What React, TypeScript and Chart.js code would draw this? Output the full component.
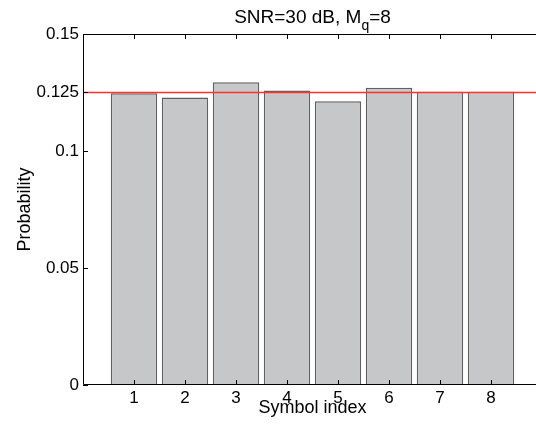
import React, { useEffect, useRef } from "react";
import { Chart, registerables } from "chart.js";

Chart.register(...registerables);

const symbols = [1, 2, 3, 4, 5, 6, 7, 8];
const probabilities = [0.1247, 0.1229, 0.1294, 0.1259, 0.1213, 0.127, 0.1253, 0.1253];
const uniformLevel = 0.125;
const xTickValues = [1, 2, 3, 4, 5, 6, 7, 8];
const xTickLabels = ["1", "2", "3", "4", "5", "6", "7", "8"];
const yTickValues = [0, 0.05, 0.1, 0.125, 0.15];
const yTickLabels = ["0", "0.05", "0.1", "0.125", "0.15"];
const titleMain = "SNR=30 dB, M";
const titleSub = "q";
const titleEnd = "=8";
const xTitle = "Symbol index";
const yTitle = "Probability";

const FONT = "'Liberation Sans', Arial, Helvetica, sans-serif";

const axesPlugin = {
  id: "matlabAxes",
  afterDatasetsDraw(chart: any) {
    const { ctx, chartArea } = chart;
    const xs = chart.scales.x;
    const ys = chart.scales.y;
    const { left, right, top, bottom } = chartArea;
    ctx.save();
    ctx.strokeStyle = "#000";
    ctx.lineWidth = 1;
    ctx.beginPath();
    ctx.rect(left + 0.5, top + 0.5, right - left - 1, bottom - top - 1);
    const tl = 5;
    xTickValues.forEach((v) => {
      const px = Math.round(xs.getPixelForValue(v)) + 0.5;
      ctx.moveTo(px, bottom);
      ctx.lineTo(px, bottom - tl);
      ctx.moveTo(px, top);
      ctx.lineTo(px, top + tl);
    });
    yTickValues.forEach((v) => {
      const py = Math.round(ys.getPixelForValue(v)) + 0.5;
      ctx.moveTo(left, py);
      ctx.lineTo(left + tl, py);
      ctx.moveTo(right, py);
      ctx.lineTo(right - tl, py);
    });
    ctx.stroke();
    ctx.restore();
  },
  afterDraw(chart: any) {
    const { ctx, chartArea } = chart;
    const cx = (chartArea.left + chartArea.right) / 2;
    ctx.save();
    ctx.fillStyle = "#000";
    ctx.textBaseline = "alphabetic";
    ctx.textAlign = "left";
    const mainFont = `19px ${FONT}`;
    const subFont = `14px ${FONT}`;
    ctx.font = mainFont;
    const w1 = ctx.measureText(titleMain).width;
    const w3 = ctx.measureText(titleEnd).width;
    ctx.font = subFont;
    const w2 = ctx.measureText(titleSub).width;
    const total = w1 + w2 + w3;
    let x = cx - total / 2;
    const base = 23;
    ctx.font = mainFont;
    ctx.fillText(titleMain, x, base);
    x += w1;
    ctx.font = subFont;
    ctx.fillText(titleSub, x, base + 7);
    x += w2;
    ctx.font = mainFont;
    ctx.fillText(titleEnd, x, base);

    ctx.font = `18px ${FONT}`;
    ctx.textAlign = "center";
    ctx.fillText(xTitle, cx, 413);

    ctx.translate(30, (chartArea.top + chartArea.bottom) / 2);
    ctx.rotate(-Math.PI / 2);
    ctx.textAlign = "center";
    ctx.fillText(yTitle, 0, 0);
    ctx.restore();
  },
};

export default function App() {
  const ref = useRef<HTMLCanvasElement>(null);
  useEffect(() => {
    if (!ref.current) return;
    Chart.defaults.font.family = FONT;
    const chart = new Chart(ref.current, {
      type: "bar",
      data: {
        datasets: [
          {
            type: "line",
            data: [
              { x: 0, y: uniformLevel },
              { x: 9, y: uniformLevel },
            ],
            borderColor: "#ff3030",
            borderWidth: 1.5,
            pointRadius: 0,
            order: 1,
          } as any,
          {
            type: "bar",
            data: symbols.map((s, i) => ({ x: s, y: probabilities[i] })),
            backgroundColor: "#c6c7c9",
            borderColor: "#606060",
            borderWidth: 1.5,
            barPercentage: 0.91,
            categoryPercentage: 1,
            order: 2,
          } as any,
        ],
      },
      options: {
        responsive: false,
        animation: false,
        layout: { padding: { left: 0, top: 34, right: 3, bottom: 0 } },
        plugins: { legend: { display: false }, tooltip: { enabled: false }, title: { display: false } },
        scales: {
          x: {
            type: "linear",
            min: 0,
            max: 9,
            offset: false,
            grid: { display: false, drawTicks: false },
            border: { display: false },
            afterBuildTicks: (scale: any) => {
              scale.ticks = xTickValues.map((v) => ({ value: v }));
            },
            afterFit: (scale: any) => {
              scale.height = 39;
            },
            ticks: {
              color: "#000",
              font: { size: 17, family: FONT },
              padding: 3,
              maxRotation: 0,
              autoSkip: false,
              callback: (_v: any, i: number) => xTickLabels[i],
            },
          },
          y: {
            type: "linear",
            min: 0,
            max: 0.15,
            grid: { display: false, drawTicks: false },
            border: { display: false },
            afterBuildTicks: (scale: any) => {
              scale.ticks = yTickValues.map((v) => ({ value: v }));
            },
            afterFit: (scale: any) => {
              scale.width = 83;
            },
            ticks: {
              color: "#000",
              font: { size: 17, family: FONT },
              padding: 4,
              autoSkip: false,
              callback: (_v: any, i: number) => yTickLabels[i],
            },
          },
        },
      },
      plugins: [axesPlugin],
    });
    return () => chart.destroy();
  }, []);
  return (
    <div style={{ position: "absolute", left: 0, top: 0, width: 536, height: 424, overflow: "hidden", background: "#fff" }}>
      <canvas ref={ref} width={545} height={424} style={{ display: "block" }} />
    </div>
  );
}
